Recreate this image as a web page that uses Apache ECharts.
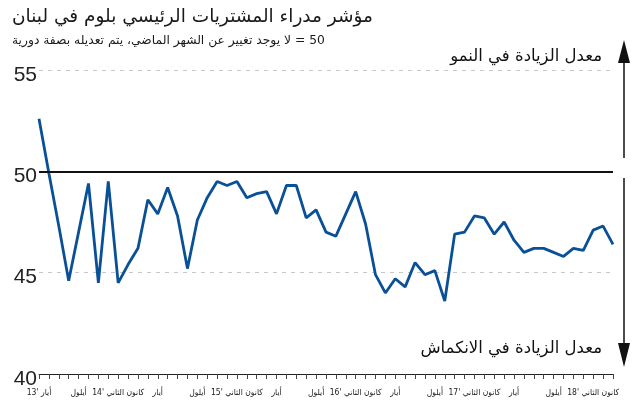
<!DOCTYPE html>
<html>
<head>
<meta charset="utf-8">
<script src="https://cdn.jsdelivr.net/npm/echarts@6/dist/echarts.min.js"></script>
<style>
  html, body { margin: 0; padding: 0; background: #fff; }
  #chart { width: 638px; height: 406px; }
</style>
</head>
<body>
<div id="chart"></div>
<script>
// أشهر المحور الأفقي (أيار 2013 - آذار 2018)
const months = [
  "أيار '13", 'حزيران', 'تموز', 'آب', 'أيلول', 'تشرين الأول', 'تشرين الثاني', 'كانون الأول',
  "كانون الثاني '14", 'شباط', 'آذار', 'نيسان', 'أيار', 'حزيران', 'تموز', 'آب', 'أيلول', 'تشرين الأول', 'تشرين الثاني', 'كانون الأول',
  "كانون الثاني '15", 'شباط', 'آذار', 'نيسان', 'أيار', 'حزيران', 'تموز', 'آب', 'أيلول', 'تشرين الأول', 'تشرين الثاني', 'كانون الأول',
  "كانون الثاني '16", 'شباط', 'آذار', 'نيسان', 'أيار', 'حزيران', 'تموز', 'آب', 'أيلول', 'تشرين الأول', 'تشرين الثاني', 'كانون الأول',
  "كانون الثاني '17", 'شباط', 'آذار', 'نيسان', 'أيار', 'حزيران', 'تموز', 'آب', 'أيلول', 'تشرين الأول', 'تشرين الثاني', 'كانون الأول',
  "كانون الثاني '18", 'شباط', 'آذار'
]

// قيم المؤشر
const pmi = [
  52.6, 49.9, 47.3, 44.6, 47.0, 49.4, 44.5, 49.5, 44.5, 45.4, 46.2, 48.6, 47.9, 49.2, 47.8, 45.2, 47.6, 48.7, 49.5, 49.3,
  49.5, 48.7, 48.9, 49.0, 47.9, 49.3, 49.3, 47.7, 48.1, 47.0, 46.8, 47.9, 49.0, 47.4, 44.9, 44.0, 44.7, 44.3, 45.5, 44.9,
  45.1, 43.6, 46.9, 47.0, 47.8, 47.7, 46.9, 47.5, 46.6, 46.0, 46.2, 46.2, 46.0, 45.8, 46.2, 46.1, 47.1, 47.3, 46.4
]

const yTicks = [40, 45, 50, 55]
const neutralLevel = 50

const titleText = 'مؤشر مدراء المشتريات الرئيسي بلوم في لبنان'
const subText = '50 = لا يوجد تغيير عن الشهر الماضي، يتم تعديله بصفة دورية'
const upText = 'معدل الزيادة في النمو'
const downText = 'معدل الزيادة في الانكماش'

// نص من اليمين إلى اليسار
const rtl = s => '\u202B' + s + '\u202C'

const fontAr = "'DejaVu Sans', sans-serif"
const fontArC = "'DejaVu Sans Condensed', 'DejaVu Sans', sans-serif"
const fontNum = "'Liberation Sans', 'DejaVu Sans', sans-serif"

const chart = echarts.init(document.getElementById('chart'))

const option = {
  animation: false,
  title: {
    left: 7,
    top: 3,
    text: rtl(titleText),
    subtext: rtl(subText),
    itemGap: 8,
    textStyle: { fontFamily: fontAr, fontSize: 18.5, fontWeight: 'normal', color: '#1a1a1a' },
    subtextStyle: { fontFamily: fontAr, fontSize: 12.3, color: '#1a1a1a' }
  },
  grid: {
    left: 39,
    right: 25,
    top: 70,
    bottom: 32
  },
  xAxis: {
    type: 'category',
    boundaryGap: false,
    data: months,
    axisLine: { lineStyle: { color: '#222', width: 1 } },
    axisTick: { show: true, interval: 0, length: 5, lineStyle: { color: '#444' } },
    axisLabel: {
      interval: 3,
      hideOverlap: false,
      margin: 14,
      fontSize: 8.5,
      color: '#222',
      fontFamily: fontArC,
      formatter: v => rtl(v)
    }
  },
  yAxis: {
    type: 'value',
    min: yTicks[0],
    max: yTicks[yTicks.length - 1],
    interval: 5,
    axisLine: { show: false },
    axisTick: { show: false },
    axisLabel: {
      fontSize: 21,
      color: '#222',
      fontFamily: fontNum,
      margin: 2,
      verticalAlign: 'top',
      lineHeight: 10
    },
    splitLine: { lineStyle: { color: '#c8c8c8', type: [4, 5], width: 1 } }
  },
  series: [
    {
      type: 'line',
      data: pmi,
      symbol: 'none',
      lineStyle: { color: '#0a5096', width: 2.8 },
      markLine: {
        silent: true,
        symbol: 'none',
        label: { show: false },
        lineStyle: { color: '#111', width: 2, type: 'solid' },
        data: [{ yAxis: neutralLevel }]
      }
    }
  ],
  graphic: [
    {
      type: 'text',
      right: 36,
      top: 48,
      style: { text: rtl(upText), font: '16.5px ' + fontAr, fill: '#111' }
    },
    {
      type: 'text',
      right: 36,
      top: 340,
      style: { text: rtl(downText), font: '16.5px ' + fontAr, fill: '#111' }
    },
    {
      type: 'line',
      shape: { x1: 624, y1: 60, x2: 624, y2: 158 },
      style: { stroke: '#111', lineWidth: 1.5 }
    },
    {
      type: 'polygon',
      shape: { points: [[618, 63], [630, 63], [624, 40]] },
      style: { fill: '#111' }
    },
    {
      type: 'line',
      shape: { x1: 624, y1: 178, x2: 624, y2: 346 },
      style: { stroke: '#111', lineWidth: 1.5 }
    },
    {
      type: 'polygon',
      shape: { points: [[618, 343], [630, 343], [624, 367]] },
      style: { fill: '#111' }
    }
  ]
}

chart.setOption(option)
</script>
</body>
</html>
